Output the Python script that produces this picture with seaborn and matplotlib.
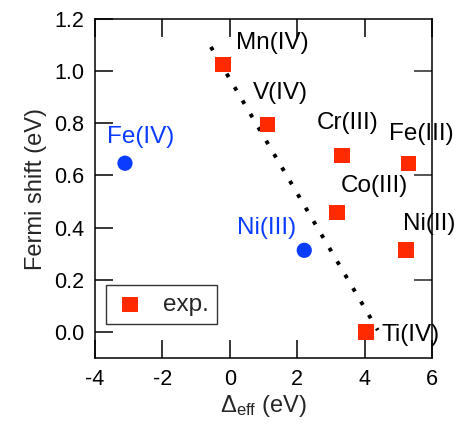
import pandas as pd
import matplotlib.pyplot as plt
import seaborn as sns

# experimental points (red squares)
exp_names = ['Mn(IV)', 'V(IV)', 'Cr(III)', 'Fe(III)', 'Co(III)', 'Ni(II)', 'Ti(IV)']
exp_delta = [-0.2, 1.12, 3.33, 5.31, 3.18, 5.23, 4.04]
exp_shift = [1.027, 0.796, 0.677, 0.647, 0.458, 0.314, 0.0]

# other points (blue circles)
oth_names = ['Fe(IV)', 'Ni(III)']
oth_delta = [-3.11, 2.21]
oth_shift = [0.647, 0.313]

# dotted guide line
fit_x = [-0.56, 4.39]
fit_y = [1.093, 0.007]

# label positions
exp_lab_x = [0.18, 0.68, 2.59, 4.72, 3.30, 5.13, 4.49]
exp_lab_y = [1.108, 0.915, 0.80, 0.76, 0.56, 0.413, -0.01]
oth_lab_x = [-3.64, 1.96]
oth_lab_y = [0.746, 0.40]

sns.set_style("ticks")
plt.rcParams['font.family'] = ['Liberation Sans', 'DejaVu Sans']
plt.rcParams['mathtext.fontset'] = 'custom'
plt.rcParams['mathtext.rm'] = 'Liberation Sans'
plt.rcParams['mathtext.it'] = 'Liberation Sans'
plt.rcParams['axes.unicode_minus'] = False

red = '#ff2a00'
blue = '#0a3cff'
fs_lab = 17.5
fs_tick = 15.5

dfExp = pd.DataFrame({'delta': exp_delta, 'shift': exp_shift})
dfOth = pd.DataFrame({'delta': oth_delta, 'shift': oth_shift})
dfFit = pd.DataFrame({'x': fit_x, 'y': fit_y})

fig = plt.figure(figsize=(4.62, 4.25), dpi=100)
ax = fig.add_axes([0.2056, 0.1576, 0.7294, 0.7977])

sns.lineplot(data=dfFit, x='x', y='y', color='black', linewidth=2.8,
             linestyle=(0, (1, 3)), ax=ax)
sns.scatterplot(data=dfExp, x='delta', y='shift', marker='s', s=120, color=red,
                edgecolor='none', label='exp.', ax=ax, zorder=3)
sns.scatterplot(data=dfOth, x='delta', y='shift', marker='o', s=120, color=blue,
                edgecolor='none', ax=ax, zorder=3)

for i in range(len(exp_names)):
    ax.text(exp_lab_x[i], exp_lab_y[i], exp_names[i], fontsize=fs_lab, color='black',
            ha='left', va='center')
ax.text(oth_lab_x[0], oth_lab_y[0], oth_names[0], fontsize=fs_lab, color=blue, ha='left', va='center')
ax.text(oth_lab_x[1], oth_lab_y[1], oth_names[1], fontsize=fs_lab, color=blue, ha='right', va='center')

ax.set_xlim(-4, 6)
ax.set_ylim(-0.1, 1.2)
ax.set_xticks([-4, -2, 0, 2, 4, 6])
ax.set_yticks([0.0, 0.2, 0.4, 0.6, 0.8, 1.0, 1.2])
ax.set_yticklabels(['0.0', '0.2', '0.4', '0.6', '0.8', '1.0', '1.2'])
ax.tick_params(direction='in', length=13, width=1.1, labelsize=fs_tick, pad=8, top=True,
               color='black', labelcolor='black')
for sp in ax.spines.values():
    sp.set_visible(True)
    sp.set_linewidth(1.1)
    sp.set_color('black')

sec = ax.secondary_yaxis('right')
sec.set_yticks([0.2, 0.6, 1.0])
sec.set_yticklabels([])
sec.tick_params(direction='in', length=13, width=1.1)
sec.spines['right'].set_visible(False)

ax.set_xlabel(r'$\Delta_{\rm eff}$ (eV)', fontsize=17, labelpad=2)
ax.set_ylabel('Fermi shift (eV)', fontsize=17, labelpad=5)

leg = ax.legend(loc='lower left', bbox_to_anchor=(0.032, 0.10), borderaxespad=0,
                fontsize=fs_lab, frameon=True, fancybox=False, handletextpad=0.7,
                handlelength=1.3, borderpad=0.35)
leg.get_frame().set_edgecolor('black')
leg.get_frame().set_linewidth(1.0)

plt.savefig("out.png", dpi=100, format="png")
